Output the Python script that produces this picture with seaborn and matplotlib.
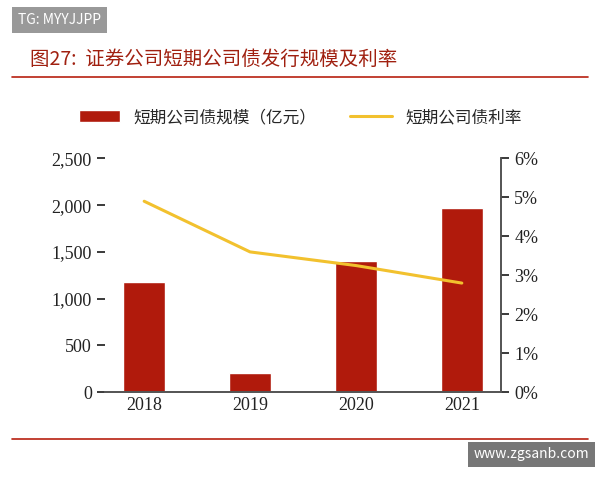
import matplotlib
matplotlib.use("Agg")
import matplotlib.pyplot as plt
import seaborn as sns
import pandas as pd
from matplotlib.ticker import FuncFormatter

years = ["2018", "2019", "2020", "2021"]
scale = [1180, 200, 1400, 1970]
rate = [4.9, 3.6, 3.25, 2.8]

sns.set_theme(style="white")
plt.rcParams['font.family'] = ['Noto Sans CJK SC', 'DejaVu Sans']

df = pd.DataFrame({"year": years, "scale": scale, "rate": rate})
fig = plt.figure(figsize=(6, 4.8), dpi=100)
ax = fig.add_axes([0.175, 0.183, 0.66, 0.487])
sns.barplot(data=df, x="year", y="scale", color="#B01A0C", saturation=1, width=0.4, ax=ax, label="短期公司债规模（亿元）")
ax.set_ylim(0, 2500)
ax.set_yticks(range(0, 2501, 500))
ax.yaxis.set_major_formatter(FuncFormatter(lambda v, p: f"{int(v):,}"))
ax2 = ax.twinx()
ax2.plot(range(4), rate, color="#F2C12E", lw=2.2, label="短期公司债利率")
ax2.set_ylim(0, 6)
ax2.set_yticks(range(0, 7))
ax2.yaxis.set_major_formatter(FuncFormatter(lambda v, p: f"{int(v)}%"))
for a in (ax, ax2):
    a.spines["top"].set_visible(False)
    a.spines["left"].set_visible(False)
    a.spines["right"].set_color("#555")
    a.spines["bottom"].set_color("#555")
    a.tick_params(labelsize=13, colors="#222")
    for t in a.get_yticklabels():
        t.set_family("Liberation Serif")
ax.set_xlabel(""); ax.set_ylabel("")
ax.tick_params(axis="x", length=0)
for t in ax.get_xticklabels():
    t.set_family("Liberation Serif")
h1, l1 = ax.get_legend_handles_labels()
h2, l2 = ax2.get_legend_handles_labels()
if ax.get_legend() is not None:
    ax.get_legend().remove()
fig.legend(h1 + h2, l1 + l2, loc="center", bbox_to_anchor=(0.5, 0.755), ncol=2, frameon=False, fontsize=12, handlelength=2.5)

fig.text(0.05, 0.865, "图27:  证券公司短期公司债发行规模及利率", color="#A02010", fontsize=14)
fig.add_artist(plt.Line2D([0.02, 0.98], [0.84, 0.84], color="#B82010", lw=1.2))
fig.add_artist(plt.Line2D([0.02, 0.98], [0.085, 0.085], color="#B82010", lw=1.2))
fig.text(0.03, 0.95, "TG: MYYJJPP", color="white", fontsize=10, bbox=dict(facecolor="#999", edgecolor="none"))
fig.text(0.79, 0.045, "www.zgsanb.com", color="white", fontsize=10, bbox=dict(facecolor="#777", edgecolor="none"))
fig.savefig("out.png", dpi=100)
